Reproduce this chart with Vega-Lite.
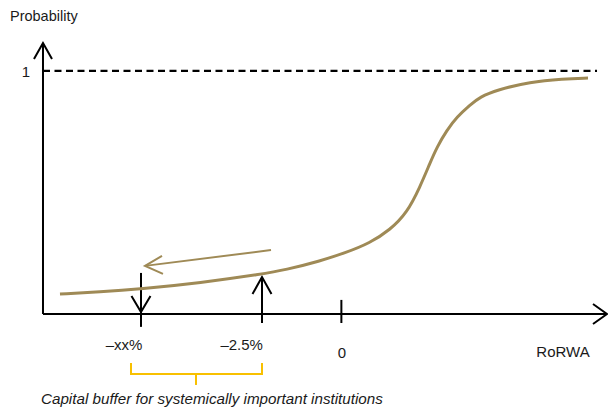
{
  "$schema": "https://vega.github.io/schema/vega-lite/v6.json",
  "width": 608,
  "height": 410,
  "autosize": {"type": "none"},
  "padding": 0,
  "background": "white",
  "config": {"view": {"stroke": null}},
  "datasets": {
    "axes": [
      {"s": "ya", "i": 0, "u": -9.259, "v": 0},
      {"s": "ya", "i": 1, "u": -9.259, "v": 1.115},
      {"s": "yh", "i": 0, "u": -9.537, "v": 1.049},
      {"s": "yh", "i": 1, "u": -9.259, "v": 1.115},
      {"s": "yh", "i": 2, "u": -8.981, "v": 1.049},
      {"s": "xa", "i": 0, "u": -9.259, "v": 0},
      {"s": "xa", "i": 1, "u": 8.148, "v": 0},
      {"s": "xh", "i": 0, "u": 7.716, "v": 0.041},
      {"s": "xh", "i": 1, "u": 8.148, "v": 0},
      {"s": "xh", "i": 2, "u": 7.716, "v": -0.041},
      {"s": "d1", "i": 0, "u": -6.235, "v": 0.169},
      {"s": "d1", "i": 1, "u": -6.235, "v": -0.053},
      {"s": "d2", "i": 0, "u": -6.528, "v": 0.074},
      {"s": "d2", "i": 1, "u": -6.235, "v": 0.008},
      {"s": "d2", "i": 2, "u": -5.942, "v": 0.074},
      {"s": "u1", "i": 0, "u": -2.5, "v": 0.152},
      {"s": "u1", "i": 1, "u": -2.5, "v": -0.037},
      {"s": "u2", "i": 0, "u": -2.793, "v": 0.082},
      {"s": "u2", "i": 1, "u": -2.5, "v": 0.152},
      {"s": "u2", "i": 2, "u": -2.207, "v": 0.082},
      {"s": "t", "i": 0, "u": -0.05, "v": 0.058},
      {"s": "t", "i": 1, "u": -0.05, "v": -0.037}
    ],
    "dashed": [
      {"i": 0, "u": -9.259, "v": 1},
      {"i": 1, "u": 7.84, "v": 1}
    ],
    "curve": [
      {"i": 0, "u": -8.735, "v": 0.082},
      {"i": 1, "u": -7.5, "v": 0.091},
      {"i": 2, "u": -6.265, "v": 0.103},
      {"i": 3, "u": -4.414, "v": 0.128},
      {"i": 4, "u": -2.469, "v": 0.165},
      {"i": 5, "u": -1.79, "v": 0.181},
      {"i": 6, "u": -0.71, "v": 0.218},
      {"i": 7, "u": 0.062, "v": 0.251},
      {"i": 8, "u": 0.833, "v": 0.292},
      {"i": 9, "u": 1.451, "v": 0.346},
      {"i": 10, "u": 1.975, "v": 0.416},
      {"i": 11, "u": 2.377, "v": 0.523},
      {"i": 12, "u": 2.685, "v": 0.621},
      {"i": 13, "u": 2.901, "v": 0.687},
      {"i": 14, "u": 3.21, "v": 0.757},
      {"i": 15, "u": 3.519, "v": 0.811},
      {"i": 16, "u": 3.92, "v": 0.86},
      {"i": 17, "u": 4.228, "v": 0.893},
      {"i": 18, "u": 4.753, "v": 0.922},
      {"i": 19, "u": 5.772, "v": 0.955},
      {"i": 20, "u": 6.79, "v": 0.967},
      {"i": 21, "u": 7.562, "v": 0.971}
    ],
    "brown": [
      {"s": "a", "i": 0, "u": -2.222, "v": 0.263},
      {"s": "a", "i": 1, "u": -6.111, "v": 0.198},
      {"s": "b", "i": 0, "u": -5.586, "v": 0.239},
      {"s": "b", "i": 1, "u": -6.111, "v": 0.198},
      {"s": "b", "i": 2, "u": -5.556, "v": 0.165}
    ],
    "bracket": [
      {"s": "a", "i": 0, "u": -6.543, "v": -0.202},
      {"s": "a", "i": 1, "u": -6.543, "v": -0.247},
      {"s": "a", "i": 2, "u": -2.5, "v": -0.247},
      {"s": "a", "i": 3, "u": -2.5, "v": -0.202},
      {"s": "b", "i": 0, "u": -4.537, "v": -0.247},
      {"s": "b", "i": 1, "u": -4.537, "v": -0.292}
    ],
    "labels": [
      {"t": "1", "u": -9.784, "v": 0.996},
      {"t": "–xx%", "u": -6.759, "v": -0.128},
      {"t": "–2.5%", "u": -3.127, "v": -0.128},
      {"t": "0", "u": -0.031, "v": -0.16},
      {"t": "RoRWA", "u": 6.79, "v": -0.155}
    ],
    "leftlabels": [
      {"t": "Probability", "u": -10.278, "v": 1.222}
    ],
    "caption": [
      {"t": "Capital buffer for systemically important institutions", "u": -9.321, "v": -0.35}
    ]
  },
  "encoding": {
    "x": {"field": "u", "type": "quantitative", "scale": {"domain": [-10.586, 8.179], "nice": false, "zero": false}, "axis": null},
    "y": {"field": "v", "type": "quantitative", "scale": {"domain": [-0.395, 1.292], "nice": false, "zero": false}, "axis": null}
  },
  "layer": [
    {
      "data": {"name": "dashed"},
      "mark": {"type": "line", "color": "#000000", "strokeWidth": 2.2, "strokeDash": [7, 4.5]},
      "encoding": {"order": {"field": "i", "type": "quantitative"}}
    },
    {
      "data": {"name": "axes"},
      "mark": {"type": "line", "color": "#000000", "strokeWidth": 2},
      "encoding": {"detail": {"field": "s", "type": "nominal"}, "order": {"field": "i", "type": "quantitative"}}
    },
    {
      "data": {"name": "curve"},
      "mark": {"type": "line", "color": "#9F8A56", "strokeWidth": 3, "interpolate": "basis"},
      "encoding": {"order": {"field": "i", "type": "quantitative"}}
    },
    {
      "data": {"name": "brown"},
      "mark": {"type": "line", "color": "#9F8A56", "strokeWidth": 2},
      "encoding": {"detail": {"field": "s", "type": "nominal"}, "order": {"field": "i", "type": "quantitative"}}
    },
    {
      "data": {"name": "bracket"},
      "mark": {"type": "line", "color": "#F8C000", "strokeWidth": 2},
      "encoding": {"detail": {"field": "s", "type": "nominal"}, "order": {"field": "i", "type": "quantitative"}}
    },
    {
      "data": {"name": "labels"},
      "mark": {"type": "text", "font": "Liberation Sans", "fontSize": 15, "color": "#1a1a1a", "align": "center", "baseline": "middle"},
      "encoding": {"text": {"field": "t"}}
    },
    {
      "data": {"name": "leftlabels"},
      "mark": {"type": "text", "font": "Liberation Sans", "fontSize": 14.5, "color": "#1a1a1a", "align": "left", "baseline": "middle"},
      "encoding": {"text": {"field": "t"}}
    },
    {
      "data": {"name": "caption"},
      "mark": {"type": "text", "font": "Liberation Sans", "fontSize": 15.2, "fontStyle": "italic", "color": "#1a1a1a", "align": "left", "baseline": "middle"},
      "encoding": {"text": {"field": "t"}}
    }
  ]
}
